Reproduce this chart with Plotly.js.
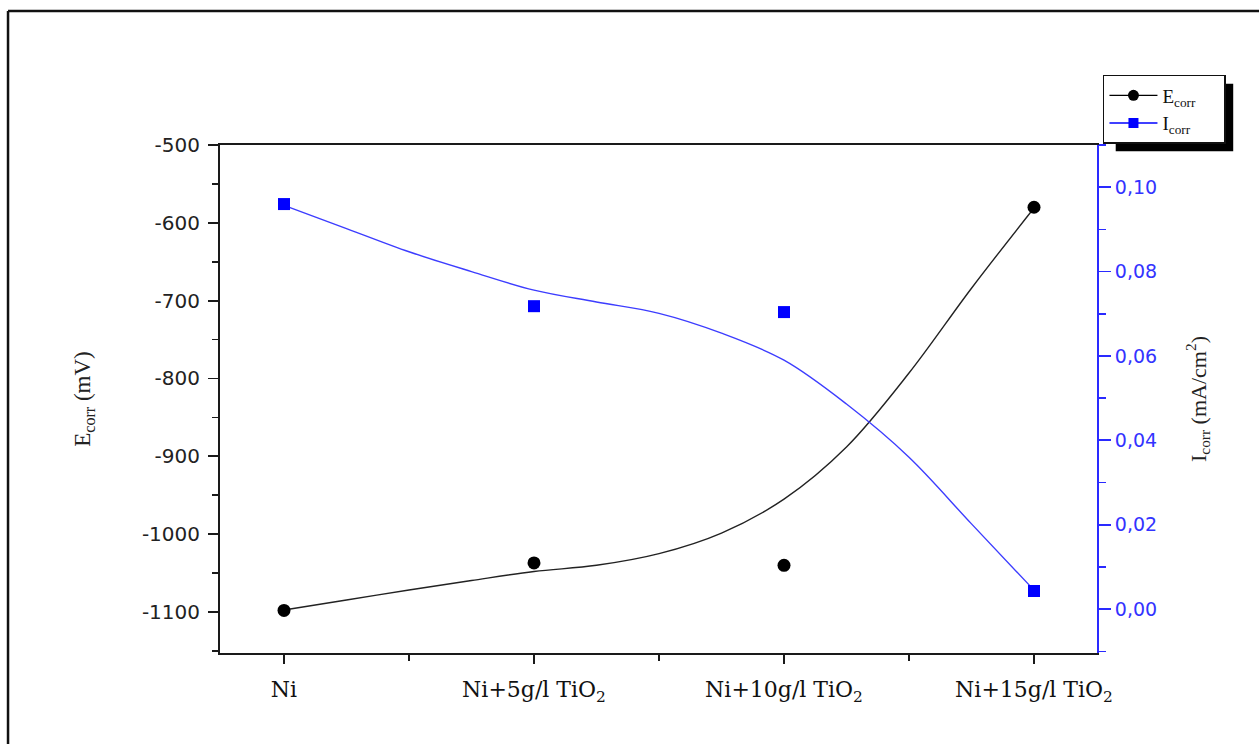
<!DOCTYPE html>
<html>
<head>
<meta charset="utf-8">
<script src="https://cdn.plot.ly/plotly-3.0.1.min.js"></script>
<style>html,body{margin:0;padding:0;background:#fff;overflow:hidden;}#chart{width:1259px;height:744px;}</style>
</head>
<body>
<div id="chart"></div>
<script>
// Categories (x positions) and tick labels
const categories = ["Ni", "Ni+5g/l TiO<sub>2</sub>", "Ni+10g/l TiO<sub>2</sub>", "Ni+15g/l TiO<sub>2</sub>"];
const catPos = [0, 1, 2, 3];
const eTickVals = [-1100, -1000, -900, -800, -700, -600, -500];
const eTickText = ["-1100", "-1000", "-900", "-800", "-700", "-600", "-500"];

// Measured points
const eCorr = [-1098, -1037, -1040, -580];      // mV
const iCorr = [0.0960, 0.0718, 0.0704, 0.0043];  // mA/cm2

// Smoothed (B-spline) curves
const fitX = [0, 0.25, 0.5, 0.75, 1, 1.25, 1.5, 1.75, 2, 2.25, 2.5, 2.75, 3];
const eFit = [-1097.4, -1084.6, -1071.7, -1059.5, -1048, -1040, -1025, -998.6, -955, -888, -793, -684, -581];
const iFit = [0.0957, 0.0902, 0.0847, 0.0800, 0.0756, 0.0728, 0.0701, 0.0654, 0.0590, 0.0486, 0.0360, 0.0202, 0.0045];

const blue = '#0000ff';
const axisBlue = '#2a2aff';
const dark = '#1a1a1a';
const pad = '\u00a0\u00a0\u00a0\u00a0\u00a0';

const traces = [
  {x: fitX, y: eFit, mode: 'lines', line: {color: '#222', width: 1.4, shape: 'spline', smoothing: 1}, showlegend: false, hoverinfo: 'skip'},
  {x: fitX, y: iFit, yaxis: 'y2', mode: 'lines', line: {color: '#3d3dff', width: 1.4, shape: 'spline', smoothing: 1}, showlegend: false, hoverinfo: 'skip'},
  {x: catPos, y: eCorr, mode: 'markers', marker: {symbol: 'circle', size: 13, color: '#000'}, showlegend: false},
  {x: catPos, y: iCorr, yaxis: 'y2', mode: 'markers', marker: {symbol: 'square', size: 12, color: blue}, showlegend: false},
  {x: [null], y: [null], mode: 'lines+markers', name: 'E<sub>corr</sub>' + pad, line: {color: '#000', width: 1.4}, marker: {symbol: 'circle', size: 11, color: '#000'}},
  {x: [null], y: [null], yaxis: 'y2', mode: 'lines+markers', name: 'I<sub>corr</sub>' + pad, line: {color: blue, width: 1.4}, marker: {symbol: 'square', size: 10, color: blue}}
];

const layout = {
  width: 1259, height: 744,
  margin: {l: 220, r: 162, t: 145, b: 91},
  paper_bgcolor: '#fff', plot_bgcolor: '#fff',
  separators: ',.',
  showlegend: true,
  xaxis: {
    range: [-0.256, 3.252],
    tickmode: 'array', tickvals: catPos, ticktext: categories,
    showline: true, linecolor: dark, linewidth: 2, mirror: true,
    ticks: 'outside', ticklen: 9, tickwidth: 1.8, tickcolor: dark,
    minor: {tickmode: 'linear', tick0: 0.5, dtick: 1, ticks: 'outside', ticklen: 6, tickwidth: 1.5, tickcolor: dark},
    showgrid: false, zeroline: false,
    tickfont: {family: 'DejaVu Serif', size: 22, color: '#111'},
    ticklabelstandoff: 7
  },
  yaxis: {
    range: [-1152.7, -500],
    tickmode: 'array', tickvals: eTickVals, ticktext: eTickText,
    showline: true, linecolor: dark, linewidth: 2,
    ticks: 'outside', ticklen: 10, tickwidth: 1.8, tickcolor: dark,
    minor: {tickmode: 'linear', tick0: -550, dtick: 100, ticks: 'outside', ticklen: 6, tickwidth: 1.5, tickcolor: dark},
    showgrid: false, zeroline: false,
    tickfont: {family: 'DejaVu Sans', size: 20, color: '#222'},
    ticklabelstandoff: 4,
    title: {text: 'E<sub>corr</sub> (mV)', font: {family: 'Liberation Serif', size: 23, color: '#222'}, standoff: 45}
  },
  yaxis2: {
    overlaying: 'y', side: 'right',
    range: [-0.0104, 0.110],
    tickmode: 'linear', tick0: 0, dtick: 0.02, tickformat: '.2f',
    showline: true, linecolor: axisBlue, linewidth: 2,
    ticks: 'outside', ticklen: 12, tickwidth: 1.8, tickcolor: axisBlue,
    minor: {tickmode: 'linear', tick0: 0.01, dtick: 0.02, ticks: 'outside', ticklen: 7, tickwidth: 1.5, tickcolor: axisBlue},
    showgrid: false, zeroline: false,
    tickfont: {family: 'DejaVu Sans', size: 19, color: '#3333ff'},
    title: {text: 'I<sub>corr</sub> (mA/cm<sup>2</sup>)', font: {family: 'Liberation Serif', size: 22, color: '#222'}, standoff: 34}
  },
  legend: {
    x: 1.0068, y: 1.1378, xanchor: 'left', yanchor: 'top',
    bgcolor: '#fff', bordercolor: '#111', borderwidth: 1.5,
    font: {family: 'Liberation Serif', size: 19, color: '#111'},
    itemwidth: 48
  },
  shapes: [
    {type: 'line', xref: 'paper', yref: 'paper', x0: -0.2417, x1: 1.6, y0: 1.2638, y1: 1.2638,
     line: {color: '#111', width: 2.5}, layer: 'below'},
    {type: 'line', xref: 'paper', yref: 'paper', x0: -0.2417, x1: -0.2417, y0: -0.6, y1: 1.2638,
     line: {color: '#111', width: 2.5}, layer: 'below'},
    {type: 'rect', xref: 'paper', yref: 'paper', x0: 1.0205, x1: 1.1517, y0: 1.002, y1: 1.122,
     line: {width: 0}, fillcolor: '#000', layer: 'above'}
  ]
};

Plotly.newPlot('chart', traces, layout, {displayModeBar: false, staticPlot: true}).then(function (gd) {
  // place the legend drop shadow behind the legend box Plotly has drawn
  var bg = gd.querySelector('.legend .bg');
  if (!bg) return;
  var r = bg.getBoundingClientRect();
  var c = gd.getBoundingClientRect();
  var fs = gd._fullLayout._size;
  var toX = function (p) { return (p - fs.l) / fs.w; };
  var toY = function (p) { return 1 - (p - fs.t) / fs.h; };
  return Plotly.relayout(gd, {
    'shapes[2].x0': toX(r.left - c.left + 12),
    'shapes[2].x1': toX(r.right - c.left + 8),
    'shapes[2].y0': toY(r.bottom - c.top + 8),
    'shapes[2].y1': toY(r.top - c.top + 8)
  });
});
</script>
</body>
</html>
